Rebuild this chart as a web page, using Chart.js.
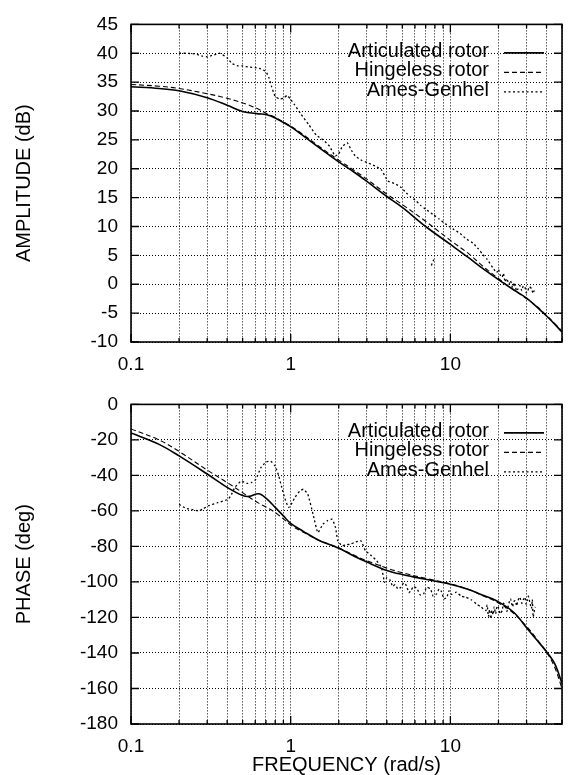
<!DOCTYPE html>
<html>
<head>
<meta charset="utf-8">
<script src="https://cdn.jsdelivr.net/npm/chart.js@4/dist/chart.umd.min.js"></script>
<style>
html,body{margin:0;padding:0;background:#fff;}
#wrap{position:relative;width:573px;height:775px;background:#fff;}
canvas{position:absolute;left:0;}
#ampChart{top:0;}
#phaseChart{top:380px;}
</style>
</head>
<body>
<div id="wrap">
<canvas id="ampChart" width="573" height="380"></canvas>
<canvas id="phaseChart" width="573" height="395"></canvas>
</div>
<script>
// ---------- DATA ----------
const seriesNames = ['Articulated rotor', 'Hingeless rotor', 'Ames-Genhel'];

const freqTicks = [0.1,0.2,0.3,0.4,0.5,0.6,0.7,0.8,0.9,1,2,3,4,5,6,7,8,9,10,20,30,40,50];
const freqTickLabels = {0.1:'0.1', 1:'1', 10:'10'};
const xTitle = 'FREQUENCY (rad/s)';
const ampTitle = 'AMPLITUDE (dB)';
const phaseTitle = 'PHASE (deg)';

// model frequencies (rad/s)
const modelFreq = [0.1,0.15,0.2,0.3,0.4,0.5,0.55,0.63,0.7,0.8,0.9,1,1.2,1.5,2,2.5,3,4,5,7,10,13,16,20,25,30,35,40,45,50];
const articulatedAmp = [34.2,33.9,33.5,32.3,31.0,29.9,29.7,29.5,29.4,28.8,28.0,27.3,25.7,23.7,21.2,19.4,17.8,15.2,13.3,10.0,6.9,4.6,2.7,0.8,-1.0,-2.4,-4.0,-5.5,-6.9,-8.3];
const hingelessAmp   = [34.6,34.3,33.9,33.0,32.2,31.4,31.0,30.3,29.6,28.9,28.1,27.4,25.9,23.9,21.5,19.7,18.2,15.6,13.8,10.9,7.6,5.3,3.1,1.0,-1.0,-2.5,-3.9,-5.4,-6.8,-8.1];
const articulatedPhase = [-16.1,-22.5,-29.0,-39.2,-46.7,-51.3,-51.8,-50.3,-52.8,-58.0,-62.8,-67.0,-71.5,-76.5,-81.0,-85.5,-88.8,-93.5,-95.8,-98.5,-101.3,-104.3,-107.5,-111.2,-117.2,-125.8,-133.0,-139.3,-146.0,-157.0];
const hingelessPhase   = [-13.8,-20.0,-26.5,-37.0,-44.0,-49.7,-52.3,-55.6,-57.8,-60.9,-64.5,-68.0,-72.0,-76.5,-80.8,-85.0,-88.0,-92.2,-94.8,-98.0,-101.0,-104.2,-107.8,-111.8,-117.8,-125.0,-132.5,-139.5,-148.0,-160.0];

// flight test (Ames-Genhel) amplitude; null = gap
const agAmpFreq = [0.2,0.22,0.25,0.28,0.3,0.33,0.36,0.4,0.43,0.47,0.5,0.55,0.6,0.65,0.7,0.73,0.76,0.8,0.85,0.9,0.95,1.0,1.05,1.15,1.3,1.45,1.6,1.75,1.9,2.0,2.1,2.26,2.4,2.54,2.8,3.0,3.37,3.7,4.06,4.5,4.9,5.3,5.64,6.0,6.5,7.0,7.86,8.5,9.5,10.5,11.5,12.5,13.9,15,15.9,17,18.4,19.5,20.0,20.5,21.1,21.5,22,22.6,23.2,23.8,24.5,25.0,25.5,26.0,26.5,27.2,28,28.6,29.3,29.9,30.5,31.2,32.3,32.9,33.5,34.5, 7.7, 7.87,7.51];
const agAmp     = [40.0,40.0,39.9,39.5,39.4,39.7,40.0,39.2,38.2,37.8,37.8,37.6,37.5,37.3,36.8,35.8,34.2,32.5,32.1,32.2,32.7,32.0,31.2,29.6,27.6,25.8,25.0,23.9,22.2,22.6,23.8,24.5,23.2,22.2,21.4,21.1,20.5,19.8,17.9,17.4,16.8,15.8,15.1,14.6,13.7,13.0,12.0,11.3,10.3,9.5,8.8,7.9,7.1,6.1,5.2,4.3,2.9,2.0,2.6,1.6,1.2,1.9,0.4,1.0,0.0,0.6,-0.6,0.3,-0.4,-1.2,-0.8,-0.2,-1.1,-0.3,-0.5,-1.5,-1.2,-0.4,-0.8,-1.6,-1.1,-0.9, null, 4.3,2.9];

// flight test (Ames-Genhel) phase
const agPhaseFreq = [0.2,0.22,0.24,0.265,0.285,0.305,0.35,0.405,0.43,0.446,0.49,0.53,0.565,0.605,0.65,0.7,0.75,0.8,0.84,0.88,0.92,0.97,1.02,1.06,1.14,1.2,1.28,1.38,1.48,1.59,1.7,1.82,1.91,1.97,2.1,2.25,2.37,2.55,2.75,2.94,3.2,3.45,3.7,3.87,4.0,4.2,4.35,4.5,4.7,4.9,5.1,5.3,5.5,5.65,5.9,6.2,6.5,6.8,7.1,7.5,7.8,8.2,8.5,8.8,9.1,9.5,9.8,10.2,10.9,11.7,12.5,13.5,14.5,15.5,16.7,17.0,17.3,17.6,17.9,18.2,18.5,18.8,19.2,19.6,20.0,20.5,21.1,21.5,22.0,22.6,23.2,23.8,24.5,25.0,25.5,26.0,26.5,27.2,28.0,28.6,29.3,29.8,30.3,30.8,31.4,32.2,32.6,33.0,33.6,34.0];
const agPhase     = [-56.3,-58.5,-59.1,-60.0,-58.6,-57.2,-55.3,-53.5,-50.0,-46.9,-43.2,-44.5,-44.1,-42.2,-35.7,-32.5,-32.0,-34.8,-40.0,-46.9,-53.0,-58.1,-55.5,-52.5,-48.8,-47.8,-50.6,-61.8,-72.2,-67.5,-65.5,-64.7,-69.4,-76.8,-79.6,-79.0,-78.7,-77.5,-76.8,-82.4,-85.2,-88.0,-91.8,-100.2,-97.5,-99.0,-102.5,-101.5,-104.0,-103.0,-100.5,-102.0,-106.0,-104.9,-102.5,-104.0,-107.5,-106.7,-103.0,-103.9,-108.0,-106.7,-104.0,-105.5,-109.5,-108.6,-105.0,-107.0,-105.8,-108.0,-108.6,-110.0,-112.3,-114.0,-116.1,-113.0,-119.5,-115.5,-120.7,-116.0,-118.5,-114.0,-117.9,-113.5,-114.5,-118.0,-116.1,-112.0,-113.5,-116.5,-112.3,-109.5,-114.0,-111.0,-110.5,-113.5,-110.5,-108.5,-112.0,-110.0,-108.6,-112.5,-110.5,-108.0,-111.4,-115.0,-110.0,-119.8,-116.0,-114.0];

// ---------- STYLE / HELPERS ----------
const FONT = "'Liberation Sans', Arial, Helvetica, sans-serif";
Chart.defaults.font.family = FONT;
Chart.defaults.color = '#000';

const pts = (xs, ys) => xs.map((x, i) => ({x: x, y: ys[i]}));

const lineStyles = [
  {borderColor:'#000', borderWidth:1.6, borderDash:[]},
  {borderColor:'#000', borderWidth:1.1, borderDash:[5,3]},
  {borderColor:'#000', borderWidth:1.3, borderDash:[2,2.5]}
];

const framePlugin = {
  id: 'frameTicks',
  afterDraw(chart) {
    const {ctx, chartArea: a, scales} = chart;
    ctx.save();
    ctx.setLineDash([]);
    ctx.strokeStyle = '#000';
    ctx.lineWidth = 1.6;
    ctx.strokeRect(a.left, a.top, a.right - a.left, a.bottom - a.top);
    ctx.lineWidth = 1.3;
    ctx.beginPath();
    scales.y.ticks.forEach(t => {
      const y = scales.y.getPixelForValue(t.value);
      ctx.moveTo(a.left, y); ctx.lineTo(a.left + 8, y);
      ctx.moveTo(a.right, y); ctx.lineTo(a.right - 8, y);
    });
    scales.x.ticks.forEach(t => {
      const x = scales.x.getPixelForValue(t.value);
      const lg = Math.log10(t.value);
      const major = Math.abs(lg - Math.round(lg)) < 1e-9;
      const len = major ? 8 : 4;
      ctx.moveTo(x, a.bottom); ctx.lineTo(x, a.bottom - len);
      ctx.moveTo(x, a.top); ctx.lineTo(x, a.top + len);
    });
    ctx.stroke();
    ctx.restore();
  }
};

const legendPlugin = {
  id: 'cornerLegend',
  afterDraw(chart) {
    const {ctx, chartArea: a} = chart;
    ctx.save();
    ctx.font = '20px ' + FONT;
    ctx.fillStyle = '#000';
    ctx.textAlign = 'right';
    ctx.textBaseline = 'middle';
    chart.data.datasets.forEach((ds, i) => {
      const y = a.top + 27 + i * 19.5;
      ctx.fillText(ds.label, a.right - 73, y);
      ctx.beginPath();
      ctx.setLineDash(ds.borderDash || []);
      ctx.lineWidth = ds.borderWidth;
      ctx.strokeStyle = ds.borderColor;
      ctx.moveTo(a.right - 58, y + 1.5);
      ctx.lineTo(a.right - 18, y + 1.5);
      ctx.stroke();
    });
    ctx.restore();
  }
};

function makeChart(id, dataSets, yMin, yMax, yStep, yTitle, padTop, xHeight, showXTitle) {
  const datasets = dataSets.map((d, i) => Object.assign({
    label: seriesNames[i],
    data: d,
    pointRadius: 0,
    fill: false,
    spanGaps: false,
    tension: i === 2 ? 0.15 : 0.35
  }, lineStyles[i]));
  return new Chart(document.getElementById(id), {
    type: 'line',
    data: {datasets},
    plugins: [framePlugin, legendPlugin],
    options: {
      responsive: false,
      animation: false,
      devicePixelRatio: 1,
      layout: {padding: {top: padTop, right: 2, bottom: 0, left: 0}},
      plugins: {legend: {display: false}, tooltip: {enabled: false}},
      scales: {
        x: {
          type: 'logarithmic',
          min: 0.1, max: 50,
          afterBuildTicks: s => { s.ticks = freqTicks.map(v => ({value: v})); },
          afterFit: s => { s.height = xHeight; },
          ticks: {
            autoSkip: false, maxRotation: 0, padding: 11,
            font: {size: 19, family: FONT}, color: '#000',
            callback: v => freqTickLabels[v] !== undefined ? freqTickLabels[v] : ''
          },
          grid: {color: '#000', lineWidth: 1, drawTicks: false, borderDash: [1, 2]},
          border: {display: false, dash: [1, 2]},
          title: {display: showXTitle, text: xTitle, color: '#000',
                  font: {size: 20, family: FONT, lineHeight: 1}, padding: {top: 0, bottom: 0}}
        },
        y: {
          type: 'linear',
          min: yMin, max: yMax,
          afterFit: s => { s.width = 131; },
          ticks: {stepSize: yStep, padding: 13, font: {size: 19, family: FONT}, color: '#000'},
          grid: {color: '#000', lineWidth: 1, drawTicks: false, borderDash: [1, 2]},
          border: {display: false, dash: [1, 2]},
          title: {display: true, text: yTitle, color: '#000',
                  font: {size: 20, family: FONT, lineHeight: 1.2}, padding: {top: 12, bottom: 0}}
        }
      }
    }
  });
}

makeChart('ampChart', [
  pts(modelFreq, articulatedAmp),
  pts(modelFreq, hingelessAmp),
  pts(agAmpFreq, agAmp)
], -10, 45, 5, ampTitle, 20, 38, false);

makeChart('phaseChart', [
  pts(modelFreq, articulatedPhase),
  pts(modelFreq, hingelessPhase),
  pts(agPhaseFreq, agPhase)
], -180, 0, 20, phaseTitle, 23, 51, true);
</script>
</body>
</html>
